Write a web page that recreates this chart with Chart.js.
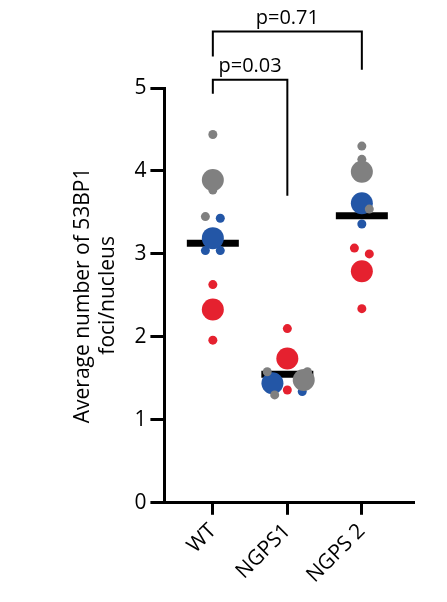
<!DOCTYPE html>
<html><head><meta charset="utf-8">
<script src="https://cdn.jsdelivr.net/npm/chart.js@4"></script>
<style>html,body{margin:0;padding:0;background:#fff}#w{width:447px;height:602px}</style>
</head><body><div id="w"><canvas id="c"></canvas></div>
<script>
const categories = ["WT", "NGPS1", "NGPS 2"];
const yTicks = [0, 1, 2, 3, 4, 5];
const means = [3.13, 1.55, 3.46];
// [category index, jitter, value, size]
const redPts = [[1,0,2.63,'s'],[1,0,2.33,'b'],[1,0,1.96,'s'],[2,0,2.10,'s'],[2,0,1.74,'b'],[2,0,1.36,'s'],[3,-0.1,3.07,'s'],[3,0.1,3.00,'s'],[3,0,2.79,'b'],[3,0,2.34,'s']];
const grayPts = [[1,0,4.44,'s'],[1,0,3.77,'s'],[1,0,3.89,'b'],[1,-0.1,3.45,'s'],[2,-0.27,1.58,'s'],[2,0.27,1.58,'s'],[2,-0.17,1.30,'s'],[2,0.22,1.48,'b'],[3,0,4.30,'s'],[3,0,4.14,'s'],[3,0,3.99,'b'],[3,0.1,3.54,'s']];
const bluePts = [[1,0.1,3.43,'s'],[1,-0.1,3.04,'s'],[1,0.1,3.04,'s'],[1,0,3.19,'b'],[2,0.2,1.34,'s'],[2,-0.2,1.44,'b'],[3,0,3.36,'s'],[3,0,3.61,'b']];
const pLabels = ["p=0.03", "p=0.71"];
const brackets = [[1,2,5.1,4.93,3.7],[1,3,5.68,5.38,5.22]];

function ds(pts, color){
  return {data: pts.map(p=>({x:p[0]+p[1], y:p[2]})), backgroundColor: color, borderWidth:0,
    pointRadius: pts.map(p=>p[3]==='b'?11:4.5), pointHoverRadius: pts.map(p=>p[3]==='b'?11:4.5)};
}
const meanDs = {data: means.map((m,i)=>({x:i+1,y:m})), pointStyle:'line', pointRadius:26, borderWidth:7, borderColor:'#000', backgroundColor:'#000'};

const overlay = {
  id:'overlay',
  afterDraw(chart){
    const ctx = chart.ctx, xs = chart.scales.x, ys = chart.scales.y;
    ctx.save();
    ctx.strokeStyle='#000'; ctx.lineWidth=2; ctx.fillStyle='#000';
    ctx.font='20px "Open Sans"'; ctx.textAlign='center'; ctx.textBaseline='bottom';
    brackets.forEach((b,i)=>{
      const x1=xs.getPixelForValue(b[0]), x2=xs.getPixelForValue(b[1]);
      const yt=ys.getPixelForValue(b[2]), yl=ys.getPixelForValue(b[3]), yr=ys.getPixelForValue(b[4]);
      ctx.beginPath(); ctx.moveTo(x1,yl); ctx.lineTo(x1,yt); ctx.lineTo(x2,yt); ctx.lineTo(x2,yr); ctx.stroke();
      ctx.fillText(pLabels[i], (x1+x2)/2, yt-3);
    });
    ctx.restore();
  }
};

new Chart(document.getElementById('c'), {
  type:'scatter',
  data:{datasets:[ds(redPts,'#e5212f'), ds(grayPts,'#808080'), ds(bluePts,'#2356a6'), meanDs]},
  options:{
    responsive:true, maintainAspectRatio:false, animation:false,
    layout:{padding:{top:88,right:22,left:66,bottom:10}},
    plugins:{legend:{display:false}, tooltip:{enabled:false}},
    scales:{
      x:{type:'linear', min:0.35, max:3.7,
        afterBuildTicks(s){ s.ticks = categories.map((c,i)=>({value:i+1})); },
        ticks:{callback:(v)=>categories[v-1]||'', font:{size:21,family:'"Open Sans"'}, color:'#000', minRotation:45, maxRotation:45, autoSkip:false, padding:4},
        grid:{display:true, drawOnChartArea:false, tickLength:12, tickWidth:3, color:'#000'},
        border:{width:3, color:'#000'}},
      y:{min:0, max:5,
        afterBuildTicks(s){ s.ticks = yTicks.map(v=>({value:v})); },
        ticks:{font:{size:21,family:'"Open Sans"'}, color:'#000', padding:4},
        grid:{display:true, drawOnChartArea:false, tickLength:14, tickWidth:3, color:'#000'},
        border:{width:3, color:'#000'},
        title:{display:true, text:['Average number of 53BP1','foci/nucleus'], font:{size:21,family:'"Open Sans"'}, color:'#000', padding:{bottom:10}}}
    }
  },
  plugins:[overlay]
});
</script></body></html>
